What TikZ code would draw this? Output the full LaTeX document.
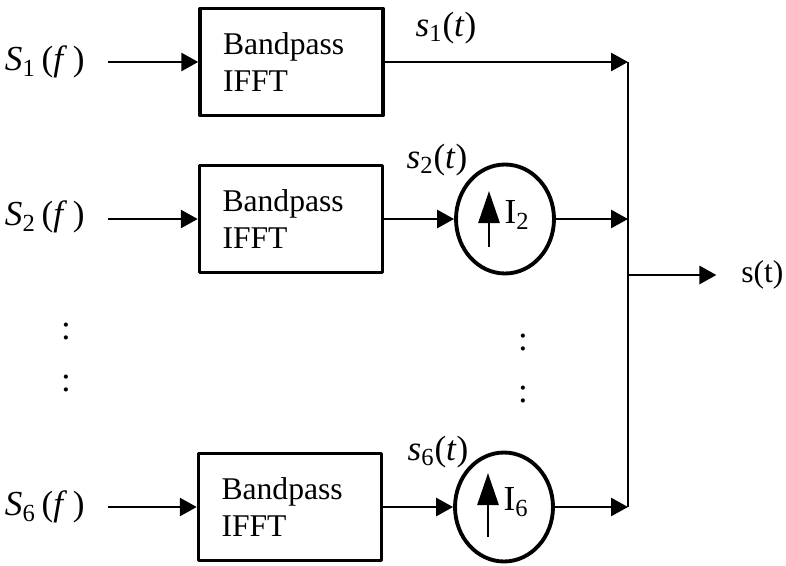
\documentclass[tikz,border=0pt]{standalone}
\usepackage{fontspec}
\setmainfont{Liberation Serif}
\usetikzlibrary{positioning}
\usetikzlibrary{shapes}
\usetikzlibrary{arrows.meta}

\begin{document}
\begin{tikzpicture}[x=0.02cm,y=-0.02cm,line join=round,>={Triangle[length=0.34cm,width=0.36cm]},
filtre/.style={draw,line width=2pt,minimum width=3.66cm,minimum height=2.14cm,text width=2.74cm,inner xsep=0.46cm,align=left,font=\fontsize{18}{21}\selectfont},
gain/.style={draw,ellipse,line width=2.2pt,minimum width=1.96cm,minimum height=2.18cm,inner sep=0pt},
lbl/.style={font=\fontsize{20}{23}\selectfont,inner sep=0pt},
fil/.style={line width=1.6pt}]
\useasboundingbox (0,0) rectangle (786,565);
\node[filtre] (f1) at (291.5,62) {Bandpass\\IFFT};
\node[filtre] (f2) at (291,219) {Bandpass\\IFFT};
\node[filtre] (f6) at (290,507) {Bandpass\\IFFT};
\node[gain] (c2) at (505,219) {};
\node[gain] (c6) at (504,507) {};
\node[lbl,anchor=east] (e1) at (85,62) {\textit{S}\textsubscript{1}\,(\textit{f}\,)};
\node[lbl,anchor=east] (e2) at (85,217) {\textit{S}\textsubscript{2}\,(\textit{f}\,)};
\node[lbl,anchor=east] (e6) at (85,507) {\textit{S}\textsubscript{6}\,(\textit{f}\,)};
\node[lbl] (s1) at (446,28) {\textit{s}\textsubscript{1}(\textit{t})};
\node[lbl] (s2) at (437,160) {\textit{s}\textsubscript{2}(\textit{t})};
\node[lbl] (s6) at (438,452) {\textit{s}\textsubscript{6}(\textit{t})};
\node[lbl] (i2) at ([shift={(12,-4)}]c2.center) {I\textsubscript{2}};
\node[lbl] (i6) at ([shift={(12,-5)}]c6.center) {I\textsubscript{6}};
\node[lbl] (dl1) at (66,331) {:};
\node[lbl] (dl2) at (66,383) {:};
\node[lbl] (dr1) at (523,342) {:};
\node[lbl] (dr2) at (523,394) {:};
\node[lbl,font=\fontsize{18}{21}\selectfont,anchor=west] (out) at (741,275) {s(t)};
\coordinate (b1) at (628,62);
\coordinate (b2) at (628,219);
\coordinate (b6) at (628,507);
\coordinate (bs) at (628,275);
% entrees
\draw[fil,->,shorten <=0.46cm] (e1.east) -- (f1.west);
\draw[fil,->,shorten <=0.46cm] (e2.east |- f2.west) -- (f2.west);
\draw[fil,->,shorten <=0.46cm] (e6.east) -- (f6.west);
% branches
\draw[fil,->] (f1.east) -- (b1);
\draw[fil,->] (f2.east) -- (c2.west);
\draw[fil,->] (c2.east) -- (b2);
\draw[fil,->] (f6.east) -- (c6.west);
\draw[fil,->] (c6.east) -- (b6);
% fleches des gains
\draw[fil,-{Triangle[length=0.64cm,width=0.42cm]}] ([shift={(-16,28)}]c2.center) -- ([shift={(-16,-28)}]c2.center);
\draw[fil,-{Triangle[length=0.64cm,width=0.42cm]}] ([shift={(-16,30)}]c6.center) -- ([shift={(-16,-34)}]c6.center);
% sommation
\draw[fil] (b1) -- (b6);
\draw[fil,->] (bs) -- ([xshift=-14]out.west);
\end{tikzpicture}
\end{document}
